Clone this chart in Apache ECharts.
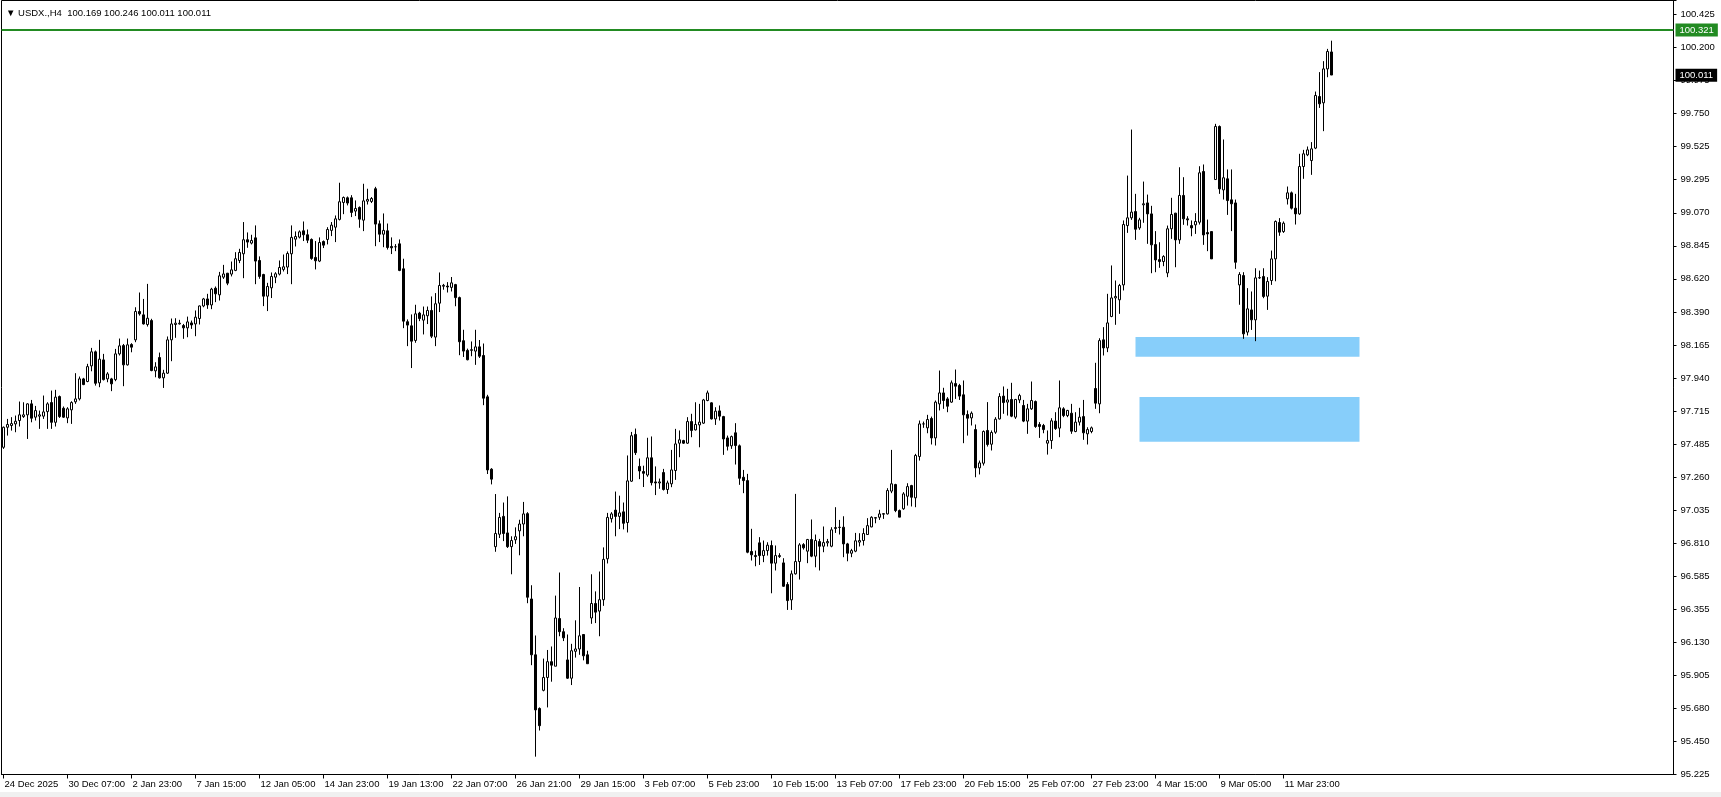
<!DOCTYPE html>
<html>
<head>
<meta charset="utf-8">
<script src="https://cdn.jsdelivr.net/npm/echarts@6/dist/echarts.min.js"></script>
<style>
html,body{margin:0;padding:0;background:#fff;}
#chart{width:1721px;height:797px;}
</style>
</head>
<body>
<div id="chart"></div>
<script>
// ---------- data ----------
const symbolName = 'USDX.,H4';
const xTickLabels = ['24 Dec 2025','30 Dec 07:00','2 Jan 23:00','7 Jan 15:00','12 Jan 05:00','14 Jan 23:00','19 Jan 13:00','22 Jan 07:00','26 Jan 21:00','29 Jan 15:00','3 Feb 07:00','5 Feb 23:00','10 Feb 15:00','13 Feb 07:00','17 Feb 23:00','20 Feb 15:00','25 Feb 07:00','27 Feb 23:00','4 Mar 15:00','9 Mar 05:00','11 Mar 23:00'];
const yTickLabels = ['95.225','95.450','95.680','95.905','96.130','96.355','96.585','96.810','97.035','97.260','97.485','97.715','97.940','98.165','98.390','98.620','98.845','99.070','99.295','99.525','99.750','99.975','100.200','100.425'];

const openVals = [
97.464,97.601,97.613,97.624,97.647,97.674,97.686,97.761,97.670,97.677,
97.677,97.708,97.770,97.635,97.811,97.731,97.665,97.720,97.775,97.795,
97.932,97.914,98.021,98.117,97.905,98.062,97.932,97.932,97.927,98.103,
98.160,98.028,98.167,98.199,98.393,98.370,98.304,98.331,97.987,98.078,
97.939,97.971,98.199,98.304,98.308,98.297,98.281,98.315,98.308,98.345,
98.431,98.479,98.438,98.552,98.507,98.628,98.655,98.649,98.674,98.742,
98.788,98.884,98.861,98.897,98.742,98.646,98.498,98.555,98.628,98.649,
98.681,98.697,98.788,98.888,98.902,98.945,98.918,98.886,98.763,98.738,
98.872,98.886,98.948,98.970,99.023,99.139,99.171,99.171,99.080,99.105,
99.018,99.148,99.146,99.233,98.993,98.922,98.945,98.838,98.836,98.856,
98.685,98.323,98.295,98.195,98.382,98.334,98.364,98.400,98.218,98.450,
98.566,98.567,98.558,98.577,98.488,98.193,98.127,98.127,98.122,98.151,
98.092,97.809,97.314,96.784,96.869,96.991,96.878,96.784,96.831,96.892,
96.939,97.010,96.426,96.044,95.677,95.801,95.889,95.997,95.966,96.292,
96.202,96.009,95.884,96.068,96.084,96.183,96.044,96.296,96.395,96.343,
96.421,96.701,96.975,97.034,96.991,97.022,96.949,97.232,97.552,97.333,
97.298,97.274,97.392,97.227,97.220,97.291,97.175,97.214,97.305,97.492,
97.510,97.492,97.640,97.583,97.617,97.629,97.784,97.768,97.658,97.713,
97.674,97.528,97.474,97.563,97.474,97.259,97.236,96.751,96.723,96.810,
96.723,96.757,96.792,96.671,96.716,96.673,96.525,96.420,96.598,96.682,
96.798,96.753,96.833,96.719,96.819,96.787,96.810,96.787,96.908,96.915,
96.917,96.803,96.739,96.753,96.815,96.826,96.867,96.919,96.979,96.985,
97.006,97.008,97.164,97.209,97.031,97.043,97.129,97.202,97.118,97.401,
97.624,97.597,97.661,97.528,97.761,97.836,97.795,97.773,97.900,97.887,
97.823,97.688,97.665,97.585,97.323,97.355,97.579,97.485,97.567,97.658,
97.814,97.773,97.791,97.670,97.788,97.750,97.643,97.727,97.777,97.620,
97.613,97.492,97.510,97.643,97.595,97.727,97.681,97.697,97.572,97.636,
97.674,97.556,97.572,97.866,97.761,98.199,98.144,98.359,98.486,98.473,
98.575,98.981,99.034,99.077,98.965,99.123,99.136,99.061,98.851,98.748,
98.735,98.657,98.959,99.066,98.883,99.187,99.027,98.981,98.986,99.004,
99.351,98.933,98.940,99.296,99.659,99.225,99.301,99.157,99.136,98.575,
98.639,98.252,98.404,98.336,98.623,98.632,98.498,98.605,98.753,99.002,
98.940,99.164,99.205,99.100,99.061,99.385,99.465,99.426,99.511,99.864,
99.821,100.053,100.169];

const highVals = [
97.606,97.658,97.670,97.681,97.777,97.772,97.765,97.788,97.747,97.715,
97.818,97.772,97.852,97.857,97.818,97.743,97.738,97.779,97.971,97.948,
97.939,98.035,98.144,98.126,98.199,98.103,97.978,97.939,98.137,98.208,
98.171,98.208,98.176,98.422,98.523,98.479,98.582,98.343,98.046,98.112,
97.994,98.222,98.345,98.347,98.336,98.308,98.358,98.331,98.400,98.434,
98.486,98.514,98.555,98.564,98.664,98.712,98.657,98.735,98.799,98.822,
99.005,98.934,98.918,98.982,98.770,98.651,98.589,98.660,98.662,98.742,
98.783,98.804,98.982,98.941,98.948,99.009,98.954,98.893,98.875,98.900,
98.879,98.970,99.005,99.050,99.274,99.180,99.180,99.189,99.153,99.112,
99.267,99.233,99.176,99.246,99.016,99.064,98.995,98.900,98.854,98.886,
98.754,98.339,98.373,98.439,98.391,98.427,98.427,98.496,98.519,98.660,
98.582,98.594,98.629,98.582,98.495,98.268,98.139,98.188,98.268,98.198,
98.174,97.823,97.321,97.144,97.015,97.086,97.128,96.855,96.916,96.968,
97.090,97.020,96.520,96.176,95.684,96.018,96.077,96.101,96.449,96.607,
96.226,96.183,96.119,96.280,96.508,96.183,96.072,96.595,96.478,96.614,
96.779,97.015,97.020,97.161,97.133,97.086,97.408,97.569,97.592,97.387,
97.338,97.529,97.538,97.333,97.250,97.316,97.236,97.446,97.590,97.579,
97.515,97.670,97.693,97.772,97.761,97.795,97.852,97.772,97.738,97.750,
97.679,97.544,97.544,97.629,97.483,97.309,97.282,96.906,96.757,96.849,
96.826,96.814,96.826,96.792,96.739,96.705,96.541,96.621,97.145,96.808,
96.808,96.837,96.970,96.867,96.837,96.922,96.837,96.917,97.054,96.967,
96.992,96.810,96.769,96.878,96.876,96.910,96.979,96.992,96.985,97.036,
97.013,97.184,97.446,97.214,97.038,97.157,97.218,97.207,97.419,97.647,
97.640,97.686,97.674,97.784,97.989,97.871,97.807,97.921,97.996,97.898,
97.921,97.716,97.709,97.620,97.373,97.579,97.773,97.579,97.670,97.834,
97.880,97.864,97.905,97.795,97.830,97.788,97.761,97.914,97.784,97.636,
97.624,97.579,97.663,97.704,97.921,97.738,97.720,97.761,97.704,97.734,
97.788,97.601,97.606,98.042,98.210,98.286,98.514,98.708,98.605,98.582,
99.016,99.323,99.638,99.198,99.034,99.282,99.193,99.116,98.943,98.867,
98.778,98.981,99.171,99.068,99.380,99.312,99.045,99.016,99.066,99.387,
99.399,99.022,98.940,99.677,99.666,99.570,99.365,99.365,99.159,98.662,
98.662,98.553,98.530,98.689,98.673,98.689,98.628,98.810,99.016,99.032,
99.009,99.248,99.214,99.198,99.472,99.499,99.522,99.552,99.898,100.031,
100.106,100.190,100.246];

const lowVals = [
97.453,97.544,97.578,97.567,97.606,97.665,97.521,97.635,97.647,97.590,
97.658,97.590,97.590,97.606,97.665,97.665,97.629,97.624,97.761,97.784,
97.889,97.909,97.984,97.886,97.875,97.921,97.909,97.848,97.916,98.092,
97.882,98.023,98.114,98.183,98.365,98.304,98.290,97.984,97.943,97.934,
97.870,97.966,98.053,98.213,98.304,98.206,98.217,98.274,98.224,98.304,
98.422,98.411,98.409,98.457,98.468,98.616,98.573,98.633,98.669,98.724,
98.621,98.829,98.852,98.580,98.617,98.430,98.396,98.485,98.587,98.640,
98.667,98.649,98.580,98.838,98.893,98.875,98.861,98.747,98.681,98.731,
98.827,98.852,98.909,98.868,99.016,99.059,99.119,99.039,99.046,98.966,
98.943,99.125,99.135,98.840,98.868,98.833,98.817,98.786,98.806,98.669,
98.279,98.156,98.006,98.179,98.327,98.236,98.307,98.211,98.156,98.389,
98.542,98.523,98.530,98.429,98.094,98.082,98.059,98.087,98.028,98.075,
97.752,97.281,97.210,96.749,96.843,96.822,96.775,96.595,96.803,96.725,
96.855,96.397,95.973,95.347,95.526,95.794,95.684,95.860,95.966,96.171,
96.138,95.879,95.837,96.025,96.044,96.006,95.983,96.256,96.261,96.171,
96.379,96.669,96.949,96.855,96.904,96.902,96.881,97.227,97.411,97.246,
97.192,97.262,97.203,97.137,97.180,97.168,97.145,97.191,97.241,97.396,
97.487,97.487,97.533,97.579,97.464,97.624,97.779,97.654,97.617,97.647,
97.412,97.442,97.453,97.346,97.207,97.150,96.739,96.689,96.650,96.659,
96.678,96.723,96.465,96.621,96.707,96.509,96.351,96.351,96.593,96.559,
96.764,96.671,96.712,96.643,96.621,96.746,96.785,96.780,96.878,96.867,
96.712,96.684,96.712,96.746,96.785,96.792,96.867,96.917,96.944,96.967,
96.974,97.004,97.150,97.020,96.986,97.036,97.065,97.059,97.054,97.373,
97.597,97.560,97.483,97.476,97.716,97.727,97.704,97.768,97.795,97.788,
97.492,97.544,97.613,97.259,97.278,97.339,97.469,97.442,97.556,97.654,
97.693,97.681,97.670,97.658,97.766,97.636,97.556,97.720,97.597,97.528,
97.560,97.414,97.453,97.583,97.533,97.670,97.670,97.556,97.567,97.613,
97.515,97.483,97.560,97.727,97.697,98.092,98.115,98.354,98.302,98.377,
98.537,98.931,99.020,98.883,98.952,99.000,98.856,98.655,98.662,98.692,
98.703,98.628,98.890,98.696,98.856,98.986,98.981,98.908,98.924,98.988,
98.849,98.806,98.753,99.294,99.198,99.159,99.054,98.943,98.685,98.439,
98.206,98.229,98.267,98.190,98.616,98.484,98.404,98.575,98.600,98.911,
98.931,99.125,99.091,98.988,99.054,99.301,99.456,99.328,99.504,99.786,
99.627,99.996,100.011];

const closeVals = [
97.601,97.620,97.626,97.642,97.686,97.686,97.761,97.663,97.715,97.686,
97.706,97.761,97.635,97.807,97.674,97.670,97.727,97.770,97.795,97.932,
97.893,98.016,98.117,97.902,98.067,97.927,97.966,97.898,98.103,98.158,
98.028,98.165,98.149,98.393,98.377,98.308,98.347,97.989,98.014,97.939,
97.971,98.199,98.308,98.313,98.313,98.281,98.322,98.301,98.354,98.431,
98.479,98.438,98.546,98.514,98.637,98.650,98.587,98.678,98.754,98.797,
98.884,98.868,98.879,98.738,98.633,98.498,98.564,98.633,98.651,98.694,
98.699,98.790,98.900,98.906,98.938,98.918,98.881,98.756,98.740,98.865,
98.847,98.954,98.984,99.027,99.144,99.173,99.135,99.071,99.098,99.025,
99.150,99.160,99.166,98.991,98.922,98.948,98.831,98.829,98.836,98.674,
98.327,98.300,98.190,98.377,98.345,98.370,98.400,98.224,98.446,98.571,
98.572,98.561,98.589,98.488,98.186,98.122,98.063,98.132,98.151,98.087,
97.800,97.309,97.246,96.874,96.984,96.874,96.784,96.826,96.852,96.939,
97.008,96.438,96.044,95.667,95.559,95.889,95.997,95.973,96.296,96.202,
96.160,95.884,96.072,96.084,96.174,96.037,95.983,96.395,96.336,96.421,
96.697,96.984,97.008,96.991,97.015,96.944,97.234,97.543,97.427,97.302,
97.286,97.392,97.222,97.220,97.227,97.175,97.220,97.309,97.487,97.515,
97.492,97.640,97.579,97.620,97.636,97.788,97.836,97.658,97.711,97.677,
97.521,97.471,97.537,97.476,97.252,97.236,96.746,96.728,96.716,96.723,
96.757,96.794,96.671,96.723,96.723,96.513,96.415,96.598,96.682,96.796,
96.776,96.833,96.719,96.826,96.787,96.812,96.819,96.899,96.915,96.917,
96.803,96.739,96.757,96.824,96.826,96.874,96.928,96.985,96.983,97.008,
97.010,97.168,97.214,97.031,96.986,97.145,97.195,97.122,97.408,97.624,
97.624,97.654,97.528,97.773,97.836,97.784,97.745,97.905,97.882,97.814,
97.686,97.663,97.697,97.323,97.357,97.572,97.483,97.565,97.656,97.811,
97.770,97.788,97.677,97.791,97.818,97.643,97.727,97.784,97.606,97.606,
97.585,97.510,97.645,97.592,97.734,97.681,97.716,97.574,97.636,97.670,
97.563,97.585,97.597,97.766,98.194,98.144,98.315,98.486,98.496,98.571,
98.988,99.034,99.073,98.956,99.020,99.130,99.061,98.849,98.746,98.735,
98.769,98.959,99.057,98.883,99.187,99.027,99.020,98.965,99.009,99.342,
98.917,98.924,98.753,99.659,99.232,99.308,99.152,99.130,98.730,98.646,
98.240,98.411,98.336,98.623,98.625,98.496,98.598,98.753,99.009,98.936,
98.997,99.205,99.100,99.061,99.385,99.472,99.499,99.506,99.871,99.814,
100.053,100.172,100.011];

const levelPrice = 100.321;          // green horizontal line
const zoneUpper = [283, 339, 98.218, 98.084];   // [fromBar, toBar, priceTop, priceBottom]
const zoneLower = [284, 339, 97.808, 97.502];

// ---------- layout constants ----------
const TOTAL_SLOTS = 418;
const LABEL_STEP = 16;
const Y_MIN = 95.225, Y_MAX = 100.521;
const Y_STEP = (100.425 - 95.225) / 23;
const FONT = 'Liberation Sans';
const AXIS_FONT = 9.5;

const categories = Array.from({length: TOTAL_SLOTS}, (_, i) => String(i));
const ohlc = openVals.map((o, i) => [o, closeVals[i], lowVals[i], highVals[i]]);
const n = ohlc.length;
const lastPrice = closeVals[n - 1];
const titleText = '\u25BC ' + symbolName + '  ' + openVals[n-1].toFixed(3) + ' ' + highVals[n-1].toFixed(3) + ' ' + lowVals[n-1].toFixed(3) + ' ' + closeVals[n-1].toFixed(3);

const showTick = (i) => i % LABEL_STEP === 0 && i / LABEL_STEP < xTickLabels.length;

const chart = echarts.init(document.getElementById('chart'), null, {renderer: 'canvas'});
chart.setOption({
  animation: false,
  backgroundColor: '#ffffff',
  textStyle: {fontFamily: FONT},
  title: {
    text: titleText,
    left: 1, top: 3,
    textStyle: {fontSize: 9.5, fontWeight: 'normal', color: '#000', fontFamily: FONT}
  },
  graphic: [{
    type: 'rect', left: 0, bottom: 0, silent: true, z: -1,
    shape: {width: 1721, height: 5},
    style: {fill: '#f0f0f0'}
  }],
  grid: {
    left: 1.5, top: 0.5, right: 47.5, bottom: 22.5,
    show: true, borderColor: '#000', borderWidth: 1, backgroundColor: '#fff',
    containLabel: false, outerBoundsMode: 'none'
  },
  xAxis: {
    type: 'category',
    data: categories,
    boundaryGap: true,
    axisLine: {show: true, lineStyle: {color: '#000', width: 1}},
    axisTick: {show: true, alignWithLabel: true, interval: showTick, length: 4, lineStyle: {color: '#000'}},
    axisLabel: {
      show: true, interval: showTick,
      formatter: (v, i) => { const k = Number(v) / LABEL_STEP; return Number.isInteger(k) && xTickLabels[k] ? xTickLabels[k] : ''; },
      align: 'left', padding: [0, 0, 0, 1], margin: 5,
      fontSize: AXIS_FONT, color: '#000', fontFamily: FONT
    },
    splitLine: {show: false}
  },
  yAxis: [
    {type: 'value', min: Y_MIN, max: Y_MAX, show: false, position: 'left', splitLine: {show: false}},
    {
      type: 'value', position: 'right',
      min: 0, max: (Y_MAX - Y_MIN) / Y_STEP, interval: 1,
      axisLine: {show: true, lineStyle: {color: '#000'}},
      axisTick: {show: true, length: 3, lineStyle: {color: '#000'}},
      axisLabel: {
        formatter: (v) => { const k = Math.round(v); return Math.abs(v - k) < 1e-6 && yTickLabels[k] ? yTickLabels[k] : ''; },
        margin: 7, align: 'left', fontSize: AXIS_FONT, color: '#000', fontFamily: FONT
      },
      splitLine: {show: false}
    }
  ],
  series: [{
    type: 'candlestick',
    xAxisIndex: 0, yAxisIndex: 0,
    data: ohlc,
    barWidth: 2,
    clip: false,
    itemStyle: {
      color: '#ffffff', color0: '#000000',
      borderColor: '#000000', borderColor0: '#000000', borderColorDoji: '#000000',
      borderWidth: 1
    },
    markArea: {
      silent: true,
      itemStyle: {color: '#87CEFA', opacity: 1},
      data: [
        [{coord: [zoneUpper[0], zoneUpper[2]]}, {coord: [zoneUpper[1], zoneUpper[3]]}],
        [{coord: [zoneLower[0], zoneLower[2]]}, {coord: [zoneLower[1], zoneLower[3]]}]
      ]
    },
    markLine: {
      silent: true,
      symbol: ['none', 'none'],
      animation: false,
      data: [
        {
          yAxis: levelPrice,
          lineStyle: {color: '#228B22', width: 2, type: 'solid'},
          label: {show: true, position: 'end', distance: 2, formatter: levelPrice.toFixed(3),
                  color: '#fff', backgroundColor: '#228B22', padding: [2, 4, 1, 4], lineHeight: 10,
                  fontSize: AXIS_FONT, fontFamily: FONT}
        },
        {
          yAxis: lastPrice,
          lineStyle: {color: 'rgba(0,0,0,0)', width: 1},
          label: {show: true, position: 'end', distance: 2, formatter: lastPrice.toFixed(3),
                  color: '#fff', backgroundColor: '#000', padding: [2, 4, 1, 4], lineHeight: 10,
                  fontSize: AXIS_FONT, fontFamily: FONT}
        }
      ]
    }
  }]
});
</script>
</body>
</html>
